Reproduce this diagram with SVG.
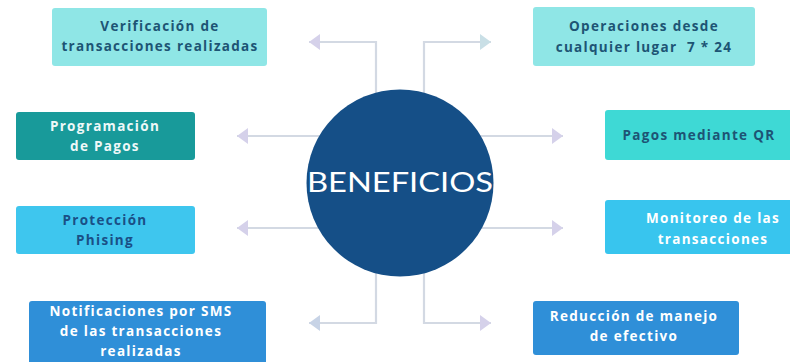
<svg xmlns="http://www.w3.org/2000/svg" width="790" height="362" viewBox="0 0 790 362">
  <style>
    .lbl { font-family: "Open Sans", "Liberation Sans", sans-serif; font-weight: 700; font-size: 13.5px; letter-spacing: 1.3px; text-anchor: middle; white-space: pre; }
    .dark { fill: #1d5474; }
    .navy { fill: #1a4f86; }
    .light { fill: #eef8f8; }
    .white { fill: #ffffff; }
    .line { fill: none; stroke: #d3d9e3; stroke-width: 2.2; }
    .title { font-family: "Lato", "DejaVu Sans", sans-serif; font-weight: 400; font-size: 26px; fill: #ffffff; }
  </style>
  <defs>
    <marker id="hl" markerWidth="12" markerHeight="16" refX="11" refY="8" orient="auto" markerUnits="userSpaceOnUse">
      <path d="M0,0 L11,8 L0,16 Z" fill="#d5d1ea"/>
    </marker>
    <marker id="hb" markerWidth="12" markerHeight="16" refX="11" refY="8" orient="auto" markerUnits="userSpaceOnUse">
      <path d="M0,0 L11,8 L0,16 Z" fill="#c9dfe6"/>
    </marker>
    <marker id="hs" markerWidth="12" markerHeight="16" refX="11" refY="8" orient="auto" markerUnits="userSpaceOnUse">
      <path d="M0,0 L11,8 L0,16 Z" fill="#c7d3e6"/>
    </marker>
  </defs>
  <rect width="790" height="362" fill="#ffffff"/>

  <g id="connectors">
    <polyline class="line" points="376,100 376,42 309,42" marker-end="url(#hl)"/>
    <polyline class="line" points="424,100 424,42 491,42" marker-end="url(#hb)"/>
    <line class="line" x1="320" y1="136" x2="237" y2="136" marker-end="url(#hl)"/>
    <line class="line" x1="320" y1="228" x2="237" y2="228" marker-end="url(#hl)"/>
    <line class="line" x1="480" y1="136" x2="563" y2="136" marker-end="url(#hl)"/>
    <line class="line" x1="480" y1="228" x2="563" y2="228" marker-end="url(#hl)"/>
    <polyline class="line" points="376,260 376,323 309,323" marker-end="url(#hs)"/>
    <polyline class="line" points="424,260 424,323 491,323" marker-end="url(#hl)"/>
  </g>

  <g id="beneficios">
    <circle cx="400" cy="183" r="93.5" fill="#154f87"/>
    <text class="title" x="400" y="192" text-anchor="middle" textLength="186" lengthAdjust="spacingAndGlyphs">BENEFICIOS</text>
  </g>

  <g id="verificacion">
    <rect x="52" y="8" width="215" height="58" rx="3" fill="#8fe6e6"/>
    <text class="lbl dark" x="160" y="31">Verificación de</text>
    <text class="lbl dark" x="160" y="51">transacciones realizadas</text>
  </g>

  <g id="operaciones">
    <rect x="533" y="7" width="222" height="59" rx="3" fill="#8fe6e6"/>
    <text class="lbl dark" x="644" y="31">Operaciones desde</text>
    <text class="lbl dark" x="644" y="52">cualquier lugar  7 * 24</text>
  </g>

  <g id="programacion">
    <rect x="16" y="112" width="179" height="48" rx="3" fill="#189a9a"/>
    <text class="lbl light" x="105" y="131">Programación</text>
    <text class="lbl light" x="105" y="151">de Pagos</text>
  </g>

  <g id="proteccion">
    <rect x="16" y="206" width="179" height="48" rx="3" fill="#3ec6ee"/>
    <text class="lbl navy" x="105" y="225">Protección</text>
    <text class="lbl navy" x="105" y="245">Phising</text>
  </g>

  <g id="pagos-qr">
    <rect x="605" y="110" width="188" height="50" rx="3" fill="#3ed9d5"/>
    <text class="lbl dark" x="699" y="140">Pagos mediante QR</text>
  </g>

  <g id="monitoreo">
    <rect x="605" y="200" width="188" height="54" rx="3" fill="#38c5ee"/>
    <text class="lbl white" x="713" y="223">Monitoreo de las</text>
    <text class="lbl white" x="713" y="244">transacciones</text>
  </g>

  <g id="notificaciones">
    <rect x="29" y="301" width="237" height="64" rx="3" fill="#2f8fd8"/>
    <text class="lbl white" x="141" y="316">Notificaciones por SMS</text>
    <text class="lbl white" x="141" y="336">de las transacciones</text>
    <text class="lbl white" x="141" y="356">realizadas</text>
  </g>

  <g id="reduccion">
    <rect x="533" y="301" width="206" height="54" rx="3" fill="#2f8fd8"/>
    <text class="lbl white" x="634" y="321">Reducción de manejo</text>
    <text class="lbl white" x="634" y="341">de efectivo</text>
  </g>
</svg>
